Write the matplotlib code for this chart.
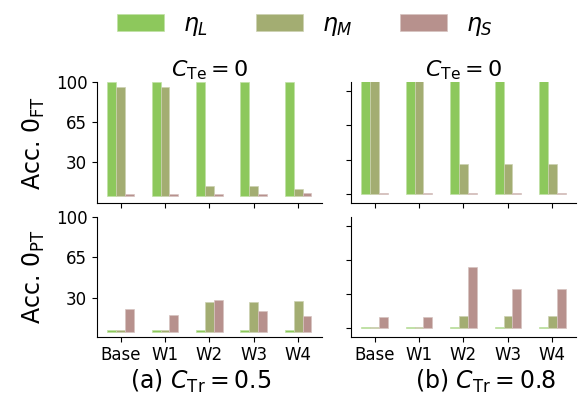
import matplotlib
matplotlib.use("Agg")
import matplotlib.pyplot as plt
import numpy as np
from matplotlib.patches import Patch
from matplotlib.colors import to_rgb

categories = ["Base", "W1", "W2", "W3", "W4"]
series_names = [r"$\eta_L$", r"$\eta_M$", r"$\eta_S$"]
colors = ["#8dc85c", "#a3ad72", "#b7918d"]

# (a) C_Tr = 0.5
a_ft_L = [100, 100, 100, 100, 100]
a_ft_M = [95.5, 95.5, 9.2, 9.2, 6.6]
a_ft_S = [2.2, 2.2, 2.2, 2.2, 3.0]
a_pt_L = [1.5, 1.5, 1.5, 1.5, 1.5]
a_pt_M = [1.5, 1.5, 26.4, 26.4, 26.7]
a_pt_S = [20.3, 14.8, 27.6, 18.0, 13.7]

# (b) C_Tr = 0.8
b_ft_L = [100, 100, 100, 100, 100]
b_ft_M = [100, 100, 25.9, 25.9, 25.9]
b_ft_S = [1.2, 1.2, 1.2, 1.2, 1.2]
b_pt_L = [1.4, 1.4, 1.4, 1.4, 1.4]
b_pt_M = [1.4, 1.4, 11.1, 10.9, 10.9]
b_pt_S = [10.0, 10.0, 54.0, 34.4, 34.7]

left_ticks = [30, 65, 100]
right_ticks = [0, 30, 60, 90]

def tint(c, f=0.45):
    r, g, b = to_rgb(c)
    return (r + (1 - r) * f, g + (1 - g) * f, b + (1 - b) * f)

fig = plt.figure(figsize=(5.81, 3.99), dpi=100)
W, H = 581, 399

def ax_at(x0, y0, x1, y1):
    return fig.add_axes([x0 / W, 1 - y1 / H, (x1 - x0) / W, (y1 - y0) / H])

ax_tl = ax_at(97, 82, 321.7, 203.3)
ax_bl = ax_at(97, 217.3, 321.7, 336.7)
ax_tr = ax_at(351, 82, 576, 202.7)
ax_br = ax_at(351, 217.3, 576, 336.7)

def draw(ax, L, M, S, ylim, yticks, show_ylabels, show_xlabels):
    x = np.arange(len(categories))
    w = 0.2
    for i, (vals, c) in enumerate(zip([L, M, S], colors)):
        ax.bar(x + (i - 1) * w, vals, w, color=c, edgecolor=tint(c), linewidth=0.5)
    ax.set_ylim(*ylim)
    ax.set_yticks(yticks)
    ax.set_xticks(x)
    if show_xlabels:
        ax.set_xticklabels(categories, fontsize=12)
    else:
        ax.set_xticklabels([])
    if show_ylabels:
        ax.set_yticklabels([str(t) for t in yticks], fontsize=12)
    else:
        ax.set_yticklabels([])
    for s in ["top", "right"]:
        ax.spines[s].set_visible(False)
    ax.tick_params(length=3.5, width=0.8)

draw(ax_tl, a_ft_L, a_ft_M, a_ft_S, (-6, 100), left_ticks, True, False)
draw(ax_bl, a_pt_L, a_pt_M, a_pt_S, (-4, 100), left_ticks, True, True)
draw(ax_tr, b_ft_L, b_ft_M, b_ft_S, (-7.5, 98), right_ticks, False, False)
draw(ax_br, b_pt_L, b_pt_M, b_pt_S, (-7.5, 98), right_ticks, False, False)
ax_br.set_xticklabels(categories, fontsize=12)

ax_tl.set_title(r"$C_{\rm Te}=0$", fontsize=16, pad=3)
ax_tr.set_title(r"$C_{\rm Te}=0$", fontsize=16, pad=3)

ax_tl.set_ylabel(r"Acc. $0_{\rm FT}$", fontsize=17, labelpad=6)
ax_bl.set_ylabel(r"Acc. $0_{\rm PT}$", fontsize=17, labelpad=6)

fig.text(201 / W, 1 - 381 / H, r"(a) $C_{\rm Tr}=0.5$", fontsize=17, ha="center", va="center")
fig.text(486 / W, 1 - 381 / H, r"(b) $C_{\rm Tr}=0.8$", fontsize=17, ha="center", va="center")

handles = [Patch(facecolor=c, edgecolor=tint(c), linewidth=0.5) for c in colors]
fig.legend(handles, series_names, loc="center", bbox_to_anchor=(0.525, 1 - 24.7 / H),
           ncol=3, frameon=False, fontsize=17)

fig.savefig("out.png", dpi=100)
